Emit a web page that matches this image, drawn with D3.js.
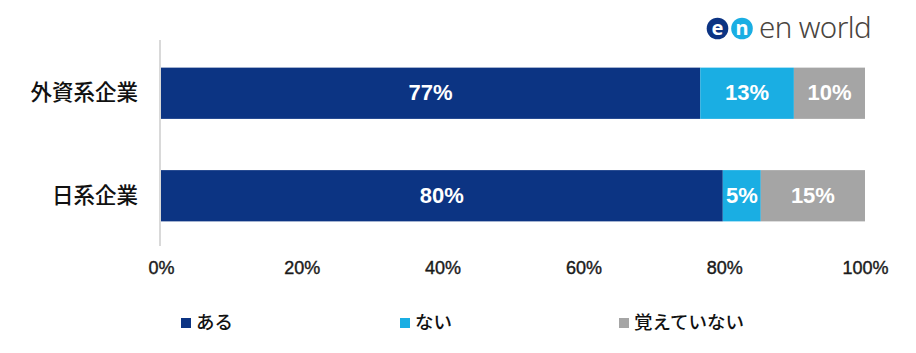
<!DOCTYPE html>
<html><head><meta charset="utf-8">
<script src="https://cdn.jsdelivr.net/npm/d3@7"></script>
<style>body{margin:0;background:#fff}svg{display:block}</style>
</head><body>
<svg id="c" width="916" height="353"></svg>
<script>
const categories = ["外資系企業", "日系企業"];
const seriesNames = ["ある", "ない", "覚えていない"];
const seriesAru = [76.6, 79.8];
const seriesNai = [13.3, 5.4];
const seriesOboe = [10.1, 14.8];
const labelsAru = ["77%", "80%"];
const labelsNai = ["13%", "5%"];
const labelsOboe = ["10%", "15%"];
const tickValues = [0, 20, 40, 60, 80, 100];
const colors = ["#0c3483", "#1aaee3", "#a5a5a5"];

const svg = d3.select("#c");
const x = d3.scaleLinear().domain([0, 100]).range([161, 865]);
const y = d3.scaleBand().domain(categories).range([42, 247]).paddingInner(0.5).paddingOuter(0.25);

const series = [seriesAru, seriesNai, seriesOboe];
const labels = [labelsAru, labelsNai, labelsOboe];

// axis line
svg.append("line").attr("x1", 160).attr("x2", 160).attr("y1", 40).attr("y2", 246)
  .attr("stroke", "#d9d9d9").attr("stroke-width", 2);

categories.forEach((cat, i) => {
  let start = 0;
  series.forEach((s, j) => {
    const v = s[i];
    svg.append("rect").attr("x", x(start)).attr("y", y(cat))
      .attr("width", x(start + v) - x(start)).attr("height", y.bandwidth())
      .attr("fill", colors[j]);
    svg.append("text").attr("x", (x(start) + x(start + v)) / 2)
      .attr("y", y(cat) + y.bandwidth() / 2 + 1)
      .attr("text-anchor", "middle").attr("dominant-baseline", "middle")
      .attr("fill", "#fff").attr("font-family", "'Liberation Sans', Arial, sans-serif")
      .attr("font-size", 22).attr("font-weight", 700).text(labels[j][i]);
    start += v;
  });
  svg.append("text").attr("x", 138).attr("y", y(cat) + y.bandwidth() / 2 + 1)
    .attr("text-anchor", "end").attr("dominant-baseline", "middle")
    .attr("font-family", "'Noto Sans CJK JP', sans-serif").attr("font-weight", 500)
    .attr("font-size", 21.5).attr("fill", "#111").text(cat);
});

// x axis tick labels
const axis = d3.axisBottom(x).tickValues(tickValues).tickFormat(d => d + "%").tickSize(0).tickPadding(0);
const ag = svg.append("g").attr("transform", "translate(0,261)").call(axis);
ag.select(".domain").remove();
ag.selectAll("text").attr("font-family", "'Liberation Sans', Arial, sans-serif")
  .attr("font-size", 18).attr("font-weight", 400).attr("fill", "#1a1a1a")
  .attr("stroke", "#1a1a1a").attr("stroke-width", 0.4);

// legend
const legX = [181, 400, 619];
seriesNames.forEach((n, j) => {
  svg.append("rect").attr("x", legX[j]).attr("y", 318).attr("width", 10).attr("height", 10).attr("fill", colors[j]);
  svg.append("text").attr("x", legX[j] + 15).attr("y", 323.5).attr("dominant-baseline", "middle")
    .attr("font-family", "'Noto Sans CJK JP', sans-serif").attr("font-weight", 500)
    .attr("font-size", 18.5).attr("fill", "#111").text(n);
});

// logo
const lg = svg.append("g");
lg.append("circle").attr("cx", 742).attr("cy", 28.5).attr("r", 10.8).attr("fill", "#1aaee3");
lg.append("circle").attr("cx", 717.5).attr("cy", 28.5).attr("r", 10.8).attr("fill", "#0c3483");
lg.append("text").attr("x", 717.5).attr("y", 29.5).attr("text-anchor", "middle").attr("dominant-baseline", "middle")
  .attr("font-family", "'Noto Sans', sans-serif").attr("font-weight", 700).attr("font-size", 20).attr("fill", "#fff").text("e");
lg.append("text").attr("x", 742).attr("y", 29.5).attr("text-anchor", "middle").attr("dominant-baseline", "middle")
  .attr("font-family", "'Noto Sans', sans-serif").attr("font-weight", 700).attr("font-size", 20).attr("fill", "#fff").text("n");
lg.append("text").attr("x", 759).attr("y", 38).attr("font-family", "'Noto Sans', sans-serif")
  .attr("font-weight", 300).attr("font-size", 29.5).attr("fill", "#4a453f").attr("letter-spacing", -0.6).text("en world");
</script>
</body></html>
